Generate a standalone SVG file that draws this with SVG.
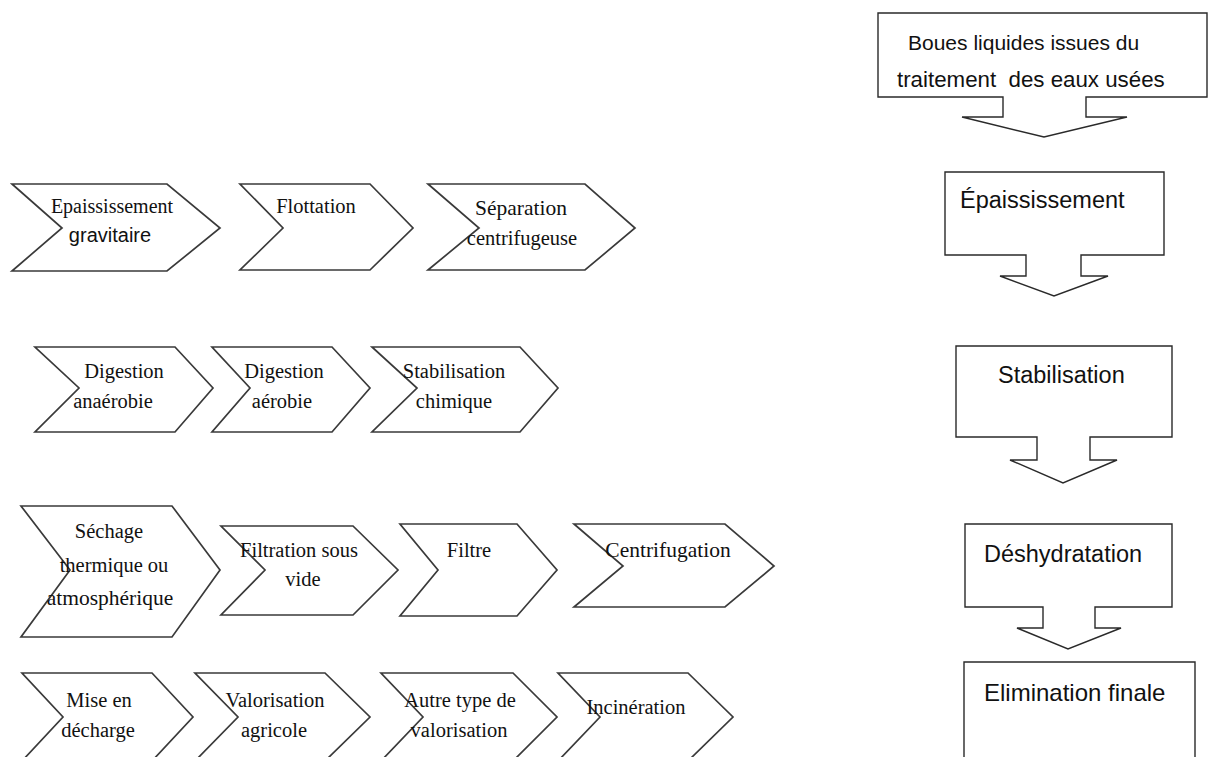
<svg xmlns="http://www.w3.org/2000/svg" width="1209" height="757" viewBox="0 0 1209 757">
<style>
.bg{fill:#fff}
.chev{fill:#fff;stroke:#3a3a3a;stroke-width:1.7;stroke-linejoin:miter}
.box{fill:#fff;stroke:#2a2a2a;stroke-width:1.4;stroke-linejoin:miter}
.st{font-family:"Liberation Serif","Times New Roman",serif;font-size:20.5px;fill:#111;text-anchor:middle}
.ss{font-family:"Liberation Sans",Arial,sans-serif;font-size:20px;fill:#111;text-anchor:middle}
.rt{font-family:"Liberation Sans",Arial,sans-serif;font-size:23.5px;fill:#111;white-space:pre}
</style>
<rect class="bg" x="0" y="0" width="1209" height="757"/>

<!-- right column process steps -->
<g id="step-boues">
<path class="box" d="M878,13 H1207 V97 H1086 V117 H1127 L1044,137 L962,117 H1003 V97 H878 Z"/>
<text class="rt" x="908" y="50" style="font-size:21px">Boues liquides issues du</text>
<text class="rt" x="897" y="87" style="font-size:22.3px">traitement  des eaux usées</text>
</g>
<g id="step-epaississement">
<path class="box" d="M945,172 H1164 V255 H1081 V276 H1108 L1054,296 L1000,276 H1026 V255 H945 Z"/>
<text class="rt" x="960" y="208">Épaississement</text>
</g>
<g id="step-stabilisation">
<path class="box" d="M956,346 H1172 V437 H1090 V460 H1117 L1063,483 L1010,460 H1037 V437 H956 Z"/>
<text class="rt" x="998" y="383">Stabilisation</text>
</g>
<g id="step-deshydratation">
<path class="box" d="M965,524 H1172 V607 H1095 V628 H1121 L1068,649 L1017,628 H1043 V607 H965 Z"/>
<text class="rt" x="984" y="562">Déshydratation</text>
</g>
<g id="step-elimination">
<path class="box" d="M964,762 V662 H1195 V762"/>
<text class="rt" x="984" y="701" style="font-size:24px">Elimination finale</text>
</g>

<!-- row 1: épaississement -->
<g id="c-epaississement-gravitaire">
<path class="chev" d="M12,184 H167 L220,228 L167,271 H12 L62,228 Z"/>
<text class="st" x="112" y="213" style="font-size:20px">Epaississement</text>
<text class="ss" x="110" y="242">gravitaire</text>
</g>
<g id="c-flottation">
<path class="chev" d="M240,184 H370 L413,228 L370,270 H240 L283,228 Z"/>
<text class="st" x="316" y="213">Flottation</text>
</g>
<g id="c-separation">
<path class="chev" d="M428,184 H585 L635,228 L585,270 H428 L479,228 Z"/>
<text class="st" x="521" y="215" style="font-size:21.5px">Séparation</text>
<text class="st" x="522" y="245">centrifugeuse</text>
</g>

<!-- row 2: stabilisation -->
<g id="c-digestion-anaerobie">
<path class="chev" d="M35,347 H175 L213,388 L175,432 H35 L79,388 Z"/>
<text class="st" x="124" y="378">Digestion</text>
<text class="st" x="113" y="408">anaérobie</text>
</g>
<g id="c-digestion-aerobie">
<path class="chev" d="M212,347 H332 L370,388 L332,432 H212 L250,388 Z"/>
<text class="st" x="284" y="378">Digestion</text>
<text class="st" x="282" y="408">aérobie</text>
</g>
<g id="c-stabilisation-chimique">
<path class="chev" d="M372,347 H520 L558,388 L520,432 H372 L417,388 Z"/>
<text class="st" x="454" y="378">Stabilisation</text>
<text class="st" x="454" y="408">chimique</text>
</g>

<!-- row 3: déshydratation -->
<g id="c-sechage">
<path class="chev" d="M21,506 H172 L220,570 L172,637 H21 L70,570 Z"/>
<text class="st" x="109" y="538">Séchage</text>
<text class="st" x="114" y="572">thermique ou</text>
<text class="st" x="110" y="605" style="font-size:21.5px">atmosphérique</text>
</g>
<g id="c-filtration-sous-vide">
<path class="chev" d="M221,526 H353 L398,570 L353,615 H221 L265,570 Z"/>
<text class="st" x="299" y="557">Filtration sous</text>
<text class="st" x="303" y="586">vide</text>
</g>
<g id="c-filtre">
<path class="chev" d="M400,524 H517 L557,570 L517,616 H400 L438,570 Z"/>
<text class="st" x="469" y="557">Filtre</text>
</g>
<g id="c-centrifugation">
<path class="chev" d="M574,524 H725 L774,566 L725,607 H574 L623,566 Z"/>
<text class="st" x="668" y="557" style="font-size:21.5px">Centrifugation</text>
</g>

<!-- row 4: élimination finale -->
<g id="c-mise-en-decharge">
<path class="chev" d="M22,673 H152 L193,717 L152,761 H22 L63,717 Z"/>
<text class="st" x="99" y="707">Mise en</text>
<text class="st" x="98" y="737">décharge</text>
</g>
<g id="c-valorisation-agricole">
<path class="chev" d="M195,673 H325 L370,717 L325,761 H195 L238,717 Z"/>
<text class="st" x="275" y="707">Valorisation</text>
<text class="st" x="274" y="737">agricole</text>
</g>
<g id="c-autre-valorisation">
<path class="chev" d="M381,673 H513 L557,717 L513,761 H381 L423,717 Z"/>
<text class="st" x="460" y="707">Autre type de</text>
<text class="st" x="459" y="737">valorisation</text>
</g>
<g id="c-incineration">
<path class="chev" d="M558,673 H688 L733,717 L688,761 H558 L600,717 Z"/>
<text class="st" x="636" y="714">Incinération</text>
</g>

<g id="connectors"></g>
</svg>
